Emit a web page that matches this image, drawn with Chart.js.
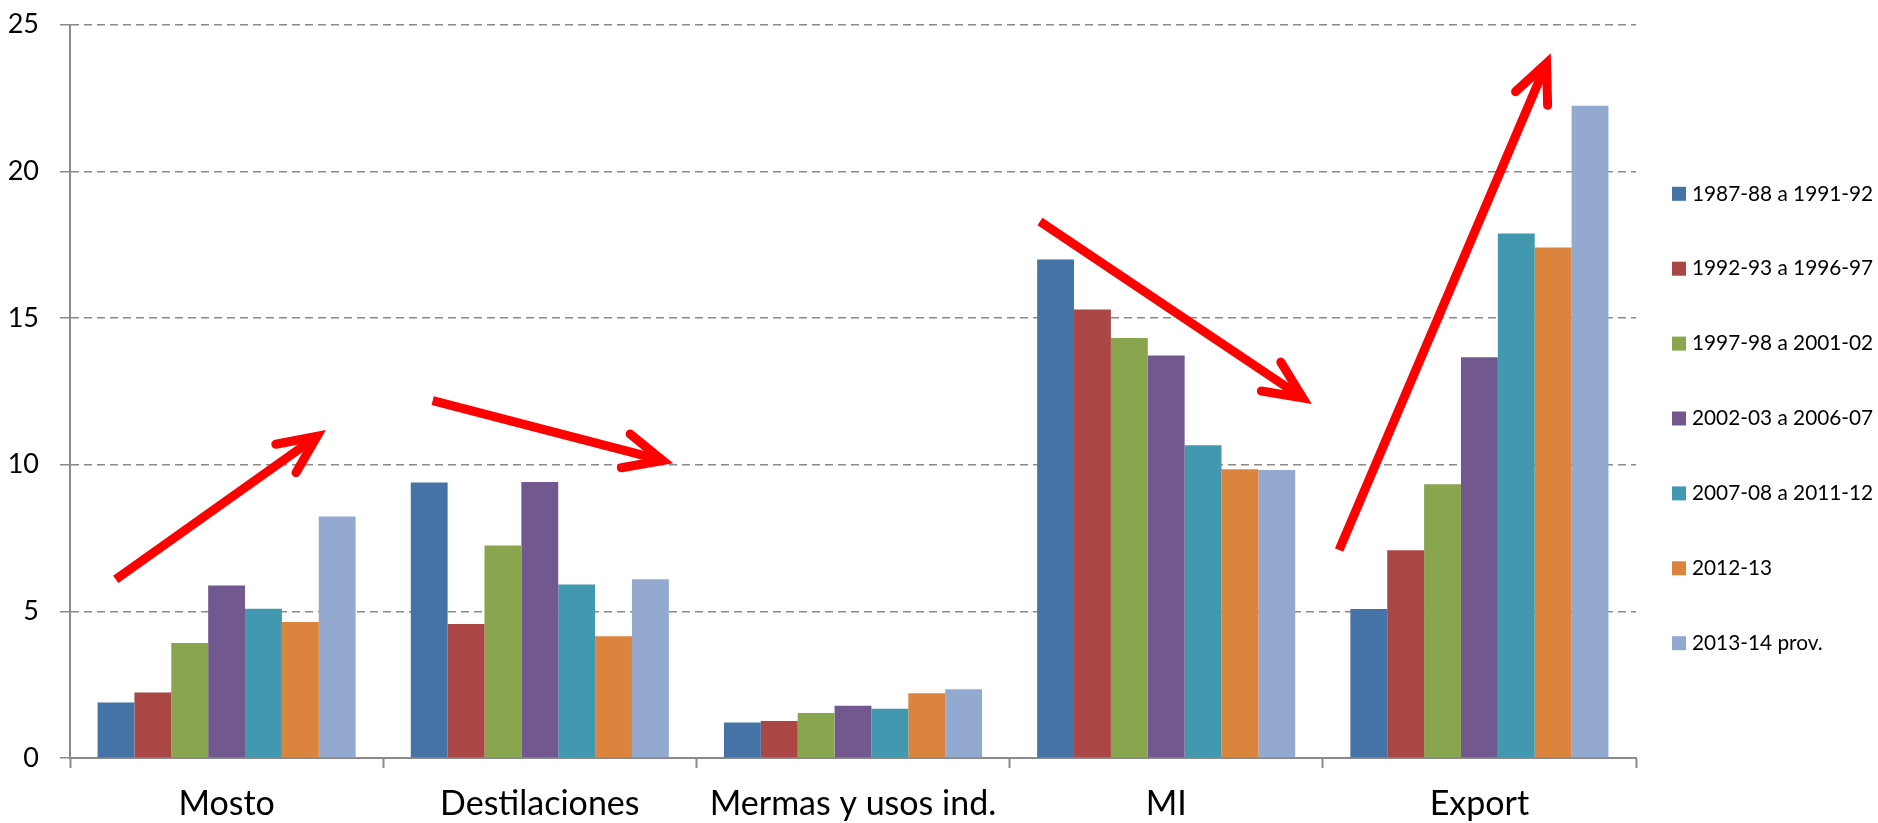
<!DOCTYPE html>
<html>
<head>
<meta charset="utf-8">
<script src="https://cdn.jsdelivr.net/npm/chart.js@4.4.1/dist/chart.umd.min.js"></script>
<style>
  html, body { margin: 0; padding: 0; background: #fff; }
</style>
</head>
<body>
<canvas id="chartDestinos" width="1878" height="823"></canvas>
<script>
// Datos
const categorias = ["Mosto", "Destilaciones", "Mermas y usos ind.", "MI", "Export"];
const periodos = ["1987-88 a 1991-92", "1992-93 a 1996-97", "1997-98 a 2001-02",
                  "2002-03 a 2006-07", "2007-08 a 2011-12", "2012-13", "2013-14 prov."];
const colores = ["#4572A7", "#AA4643", "#89A54E", "#71588F", "#4198AF", "#DB843D", "#93A9CF"];

const p1987_92 = [1.89, 9.39, 1.21, 16.99, 5.08];
const p1992_97 = [2.23, 4.57, 1.26, 15.29, 7.08];
const p1997_02 = [3.92, 7.24, 1.53, 14.32, 9.33];
const p2002_07 = [5.88, 9.41, 1.78, 13.72, 13.66];
const p2007_12 = [5.09, 5.91, 1.68, 10.66, 17.88];
const p2012_13 = [4.64, 4.15, 2.21, 9.84, 17.40];
const p2013_14 = [8.23, 6.09, 2.34, 9.82, 22.23];
const series = [p1987_92, p1992_97, p1997_02, p2002_07, p2007_12, p2012_13, p2013_14];

const ticksY = [0, 5, 10, 15, 20, 25];

// flechas de tendencia: [categoria desde, valor desde, categoria hasta, valor hasta]
const flechas = [
    [-0.354, 6.09, 0.317, 11.18],
    [0.658, 12.18, 1.426, 10.05],
    [2.597, 18.29, 3.465, 12.07],
    [3.552, 7.09, 4.228, 24.02]
];

const gris = "#8a8a8a";

// leyenda a la derecha con separacion grande entre filas
const leyendaLateral = {
    id: "leyendaLateral",
    afterDraw(chart, args, opts) {
        const ctx = chart.ctx;
        const x = chart.chartArea.right + opts.gapX;
        const n = chart.data.datasets.length;
        const y0 = chart.height / 2 + opts.offsetY - (n - 1) * opts.rowGap / 2;
        ctx.save();
        ctx.font = opts.font;
        ctx.textBaseline = "middle";
        ctx.textAlign = "left";
        chart.data.datasets.forEach((ds, i) => {
            const y = y0 + i * opts.rowGap;
            ctx.fillStyle = ds.backgroundColor;
            ctx.fillRect(x, y - opts.box / 2, opts.box, opts.box);
            ctx.fillStyle = "#000";
            ctx.fillText(ds.label, x + opts.box + opts.textGap, y);
        });
        ctx.restore();
    }
};

// flechas rojas encima de las barras
const flechasRojas = {
    id: "flechasRojas",
    afterDatasetsDraw(chart, args, opts) {
        const ctx = chart.ctx;
        const sx = chart.scales.x, sy = chart.scales.y;
        const half = opts.headAngle * Math.PI / 180;
        ctx.save();
        ctx.strokeStyle = opts.color;
        ctx.lineWidth = opts.width;
        flechas.forEach(([c0, v0, c1, v1]) => {
            const ax = sx.getPixelForValue(c0), ay = sy.getPixelForValue(v0);
            const bx = sx.getPixelForValue(c1), by = sy.getPixelForValue(v1);
            const ang = Math.atan2(by - ay, bx - ax);
            const back = (opts.width / 2) / Math.sin(half);
            const tx = bx - Math.cos(ang) * back;
            const ty = by - Math.sin(ang) * back;

            ctx.lineCap = "butt";
            ctx.beginPath();
            ctx.moveTo(ax, ay);
            ctx.lineTo(tx, ty);
            ctx.stroke();

            ctx.lineCap = "round";
            ctx.lineJoin = "miter";
            ctx.beginPath();
            ctx.moveTo(tx - Math.cos(ang - half) * opts.headLen, ty - Math.sin(ang - half) * opts.headLen);
            ctx.lineTo(tx, ty);
            ctx.lineTo(tx - Math.cos(ang + half) * opts.headLen, ty - Math.sin(ang + half) * opts.headLen);
            ctx.stroke();
        });
        ctx.restore();
    }
};

new Chart(document.getElementById("chartDestinos"), {
    type: "bar",
    data: {
        labels: categorias,
        datasets: series.map((vals, i) => ({
            label: periodos[i],
            data: vals,
            backgroundColor: colores[i],
            borderWidth: 0,
            categoryPercentage: 0.824,
            barPercentage: 1
        }))
    },
    plugins: [flechasRojas, leyendaLateral],
    options: {
        responsive: false,
        animation: false,
        devicePixelRatio: 1,
        layout: {
            autoPadding: false,
            padding: { left: 7.5, top: 24.6, right: 242, bottom: 0 }
        },
        plugins: {
            legend: { display: false },
            tooltip: { enabled: false },
            leyendaLateral: {
                gapX: 36,
                rowGap: 74.9,
                offsetY: 7,
                box: 14,
                textGap: 6,
                font: "20.8px Lato"
            },
            flechasRojas: {
                color: "#ff0000",
                width: 9,
                headAngle: 24.5,
                headLen: 42
            }
        },
        scales: {
            x: {
                afterFit: (scale) => { scale.height = 65; },
                grid: {
                    offset: true,
                    drawOnChartArea: false,
                    tickLength: 10,
                    tickColor: gris,
                    tickWidth: 2
                },
                border: { color: gris, width: 2 },
                ticks: {
                    color: "#000",
                    padding: 16,
                    font: { family: "Lato", size: 34 }
                }
            },
            y: {
                min: 0,
                max: 25,
                afterFit: (scale) => {
                    scale.width = 62.5;
                    scale.paddingTop = 0;
                    scale.paddingBottom = 0;
                },
                afterBuildTicks: (axis) => {
                    axis.ticks = ticksY.map(v => ({ value: v }));
                },
                grid: {
                    color: gris,
                    lineWidth: 1.5,
                    tickLength: 10,
                    tickColor: gris,
                    tickWidth: 1.5
                },
                border: { color: gris, width: 2, dash: [8, 5] },
                ticks: {
                    color: "#000",
                    padding: 21,
                    font: { family: "Lato", size: 27 }
                }
            }
        }
    }
});
</script>
</body>
</html>
